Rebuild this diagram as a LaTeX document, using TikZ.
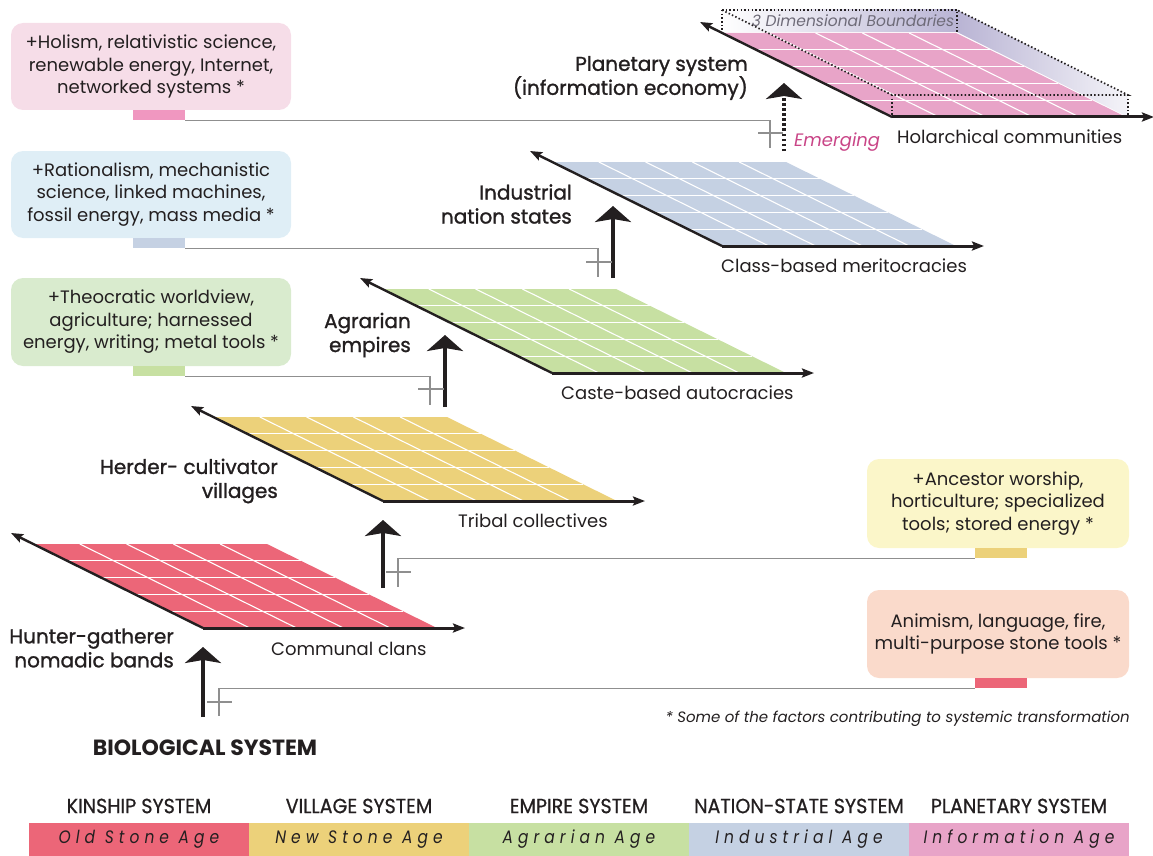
\documentclass[tikz,border=0pt]{standalone}
\usepackage{fontspec}
\setmainfont{Poppins}
\newfontfamily\medfont{Poppins}[FakeBold=1.3]
\newfontfamily\condfont{Poppins}[FakeStretch=0.93, FakeBold=0.7]
\newfontfamily\legfont{Poppins}[FakeStretch=0.86, LetterSpace=28]
\usetikzlibrary{arrows.meta, calc}

\definecolor{ink}{HTML}{231F20}
\definecolor{planeRed}{HTML}{EC6678}
\definecolor{planeYellow}{HTML}{ECD17A}
\definecolor{planeGreen}{HTML}{C7E0A2}
\definecolor{planeBlue}{HTML}{C5D1E3}
\definecolor{planePink}{HTML}{E8A4C8}
\definecolor{boxPink}{HTML}{F6DDE8}
\definecolor{boxBlue}{HTML}{DFEEF6}
\definecolor{boxGreen}{HTML}{D9EBCE}
\definecolor{boxYellow}{HTML}{FBF6C9}
\definecolor{boxRed}{HTML}{FADACB}
\definecolor{tabPink}{HTML}{F097C0}
\definecolor{emerge}{HTML}{C94587}
\definecolor{lav}{HTML}{B9B4D4}
\definecolor{conngray}{HTML}{8F8F8F}
\definecolor{dimgray}{HTML}{6E6B78}

\newcommand\drawplane[3]{%
  \begin{scope}[shift={(#1,#2)}]
    \fill[#3] (0,0) -- (234,0) -- (64,-84) -- (-170,-84) -- cycle;
    \foreach \k in {1,...,4}{
      \draw[gridline] (-34*\k,-16.8*\k) -- ++(234,0);
      \draw[gridline] (46.8*\k,0) -- ++(-170,-84);
    }
  \end{scope}}

\newcommand\planeaxes[1]{%
  \begin{scope}[shift={(#1)}]
    \coordinate (o) at (0,0);
    \coordinate (ul) at (-192,-95);
    \coordinate (br) at (262,0);
    \draw[edge] (o) -- (ul);
    \draw[edge, line width=3pt] (o) -- (br);
  \end{scope}}

\begin{document}
\begin{tikzpicture}[x=1pt,y=-1pt,
  every node/.style={text=ink, inner sep=0pt},
  gridline/.style={white, line width=1.1pt},
  edge/.style={ink, line width=2.4pt, -{Stealth[length=12pt,width=9pt,inset=2pt]}},
  uparrow/.style={ink, line width=4pt, -{Stealth[length=16pt,width=36pt,inset=3pt]}},
  conn/.style={conngray, line width=1.3pt},
  infobox/.style={rounded corners=12pt, minimum width=280pt, minimum height=87pt, align=center,
    font=\fontsize{18}{22.5}\selectfont},
  tabbox/.style={minimum width=52pt, minimum height=10pt},
  plainlabel/.style={font=\fontsize{18}{22}\selectfont, anchor=west},
  stagelabel/.style={font=\fontsize{20}{24}\medfont, align=right, anchor=east},
  legtitle/.style={font=\fontsize{20.5}{22}\condfont},
  legbar/.style={minimum width=220pt, minimum height=33pt, font=\fontsize{18}{20}\legfont\itshape},
]
\useasboundingbox (0,0) rectangle (1153,856);

% ---------- planes ----------
\drawplane{203}{628}{planeRed}
\drawplane{383}{501}{planeYellow}
\drawplane{552}{373}{planeGreen}
\drawplane{722}{246}{planeBlue}

% planetary 3D boundary shading
\shade[left color=white, right color=lav] (722,10) -- (957,10) -- (957,32) -- (722,32) -- cycle;
\shade[left color=lav, right color=lav!15] (957,10) -- (1128,95) -- (1128,117) -- (957,32) -- cycle;
\drawplane{892}{117}{planePink}
\begin{scope}[ink, line width=1.7pt, dash pattern=on 1.5pt off 2.2pt]
  \draw (722,10) -- (957,10) -- (957,32);
  \draw (722,10) -- (722,32);
  \draw (722,10) -- (892,95) -- (1128,95) -- (957,10);
  \draw (892,95) -- (892,117);
  \draw (1128,95) -- (1128,117);
\end{scope}
\node[font=\fontsize{15.5}{17}\selectfont\itshape, text=dimgray] (dimlbl) at (853,21) {3 Dimensional Boundaries};

\planeaxes{203,628}
\planeaxes{383,501}
\planeaxes{552,373}
\planeaxes{722,246}
\planeaxes{892,117}

% ---------- plane labels ----------
\node[plainlabel] (l1) at (271,649) {Communal clans};
\node[plainlabel] (l2) at (458,521) {Tribal collectives};
\node[plainlabel] (l3) at (561,393) {Caste-based autocracies};
\node[plainlabel] (l4) at (721,266) {Class-based meritocracies};
\node[plainlabel] (l5) at (897,137) {Holarchical communities};
\node[plainlabel, text=emerge, font=\fontsize{18}{22}\selectfont\itshape] (em) at (794,142) {Emerging};

\node[stagelabel] (s1) at (174,648) {Hunter-gatherer\\nomadic bands};
\node[stagelabel] (s2) at (278,481) {Herder- cultivator\\villages};
\node[stagelabel] (s3) at (411,335) {Agrarian\\empires};
\node[stagelabel] (s4) at (572,204) {Industrial\\nation states};
\node[stagelabel] (s5) at (748,78) {Planetary system\\(information economy)};

\node[font=\fontsize{22}{24}\selectfont\bfseries] (bio) at (205,748) {BIOLOGICAL SYSTEM};

% ---------- up arrows ----------
\coordinate (a1s) at (203,717); \coordinate (a1e) at (203,647);
\coordinate (a2s) at (383,588); \coordinate (a2e) at (383,520);
\coordinate (a3s) at (445,407); \coordinate (a3e) at (445,335);
\coordinate (a4s) at (613,278); \coordinate (a4e) at (613,206);
\coordinate (a5s) at (784,151); \coordinate (a5e) at (784,83);
\draw[uparrow] (a1s) -- (a1e);
\draw[uparrow] (a2s) -- (a2e);
\draw[uparrow] (a3s) -- (a3e);
\draw[uparrow] (a4s) -- (a4e);
\draw[uparrow, dash pattern=on 2.5pt off 2.5pt] (a5s) -- (a5e);

% ---------- info boxes ----------
\node[infobox, fill=boxPink] (pbox) at (151,66.5) {+Holism, relativistic science,\\renewable energy, Internet,\\networked systems *};
\node[infobox, fill=boxBlue] (bbox) at (151,194.5) {+Rationalism, mechanistic\\science, linked machines,\\fossil energy, mass media *};
\node[infobox, fill=boxGreen, minimum height=88pt] (gbox) at (151,322) {+Theocratic worldview,\\agriculture; harnessed\\energy, writing; metal tools *};
\node[infobox, fill=boxYellow, minimum width=262pt, minimum height=89pt] (ybox) at (998,503.5) {+Ancestor worship,\\horticulture; specialized\\tools; stored energy *};
\node[infobox, fill=boxRed, minimum width=262pt, minimum height=88pt] (rbox) at (998,634) {Animism, language, fire,\\multi-purpose stone tools *};

\node[tabbox, fill=tabPink] (ptab) at (159,115) {};
\node[tabbox, fill=planeBlue] (btab) at (159,243) {};
\node[tabbox, fill=planeGreen] (gtab) at (159,371) {};
\node[tabbox, fill=planeYellow] (ytab) at (1001,553) {};
\node[tabbox, fill=planeRed] (rtab) at (1001,683) {};

% ---------- connectors ----------
\coordinate (c1) at (219,716); \coordinate (t1) at (207,702);
\coordinate (c2) at (398,587); \coordinate (t2) at (386,572);
\coordinate (c3) at (430,405); \coordinate (t3) at (418,389);
\coordinate (c4) at (598,277); \coordinate (t4) at (586,262);
\coordinate (c5) at (770,148); \coordinate (t5) at (758,133);
\draw[conn] (rtab.south west) -| (c1);
\draw[conn] (ytab.south west) -| (c2);
\draw[conn] (gtab.south east) -| (c3);
\draw[conn] (btab.south east) -| (c4);
\draw[conn] (ptab.south east) -| (c5);
\draw[conn] (t1) -- ++(25,0);
\draw[conn] (t2) -- ++(25,0);
\draw[conn] (t3) -- ++(26,0);
\draw[conn] (t4) -- ++(26,0);
\draw[conn] (t5) -- ++(25,0);

\node[anchor=east, font=\fontsize{15}{17}\selectfont\itshape] (foot) at (1130,719) {* Some of the factors contributing to systemic transformation};

% ---------- legend ----------
\node[legtitle] (h1) at (139,806) {KINSHIP SYSTEM};
\node[legtitle] (h2) at (359,806) {VILLAGE SYSTEM};
\node[legtitle] (h3) at (579,806) {EMPIRE SYSTEM};
\node[legtitle] (h4) at (799,806) {NATION-STATE SYSTEM};
\node[legtitle] (h5) at (1019,806) {PLANETARY SYSTEM};
\node[legbar, fill=planeRed] (b1) at (139,839.5) {Old Stone Age};
\node[legbar, fill=planeYellow] (b2) at (359,839.5) {New Stone Age};
\node[legbar, fill=planeGreen] (b3) at (579,839.5) {Agrarian Age};
\node[legbar, fill=planeBlue] (b4) at (799,839.5) {Industrial Age};
\node[legbar, fill=planePink] (b5) at (1019,839.5) {Information Age};
\end{tikzpicture}
\end{document}
